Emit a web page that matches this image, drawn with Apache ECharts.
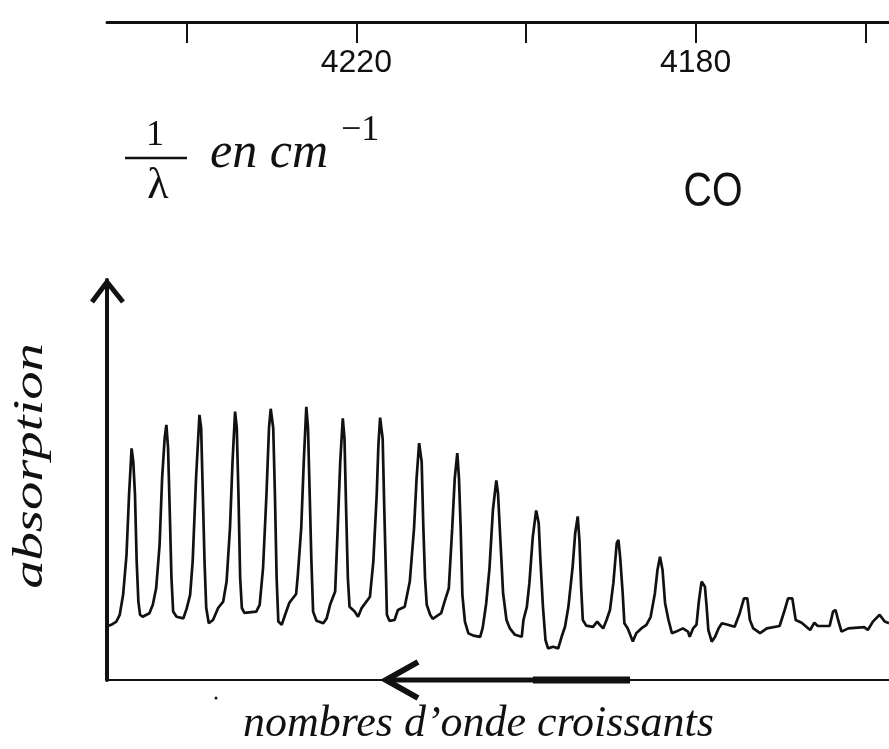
<!DOCTYPE html>
<html>
<head>
<meta charset="utf-8">
<script src="https://cdn.jsdelivr.net/npm/echarts@6/dist/echarts.min.js"></script>
<style>
html,body{margin:0;padding:0;background:#fff;}
#c{width:889px;height:749px;}
</style>
</head>
<body>
<div id="c"></div>
<script>
// Wavenumber (cm^-1) of each traced point of the CO absorption spectrum
const wavenumber = [
4249.3, 4248.9, 4248.3, 4247.9, 4247.5, 4247.1, 4246.8, 4246.5, 4246.3, 4246.1,
4245.9, 4245.7, 4245.5, 4245.2, 4244.4, 4244.0, 4243.6, 4243.2, 4242.9, 4242.6,
4242.4, 4242.2, 4242.0, 4241.8, 4241.6, 4241.2, 4240.4, 4240.0, 4239.6, 4239.3,
4238.9, 4238.5, 4238.3, 4238.1, 4237.9, 4237.7, 4237.4, 4236.9, 4236.3, 4235.7,
4235.3, 4234.9, 4234.6, 4234.3, 4234.1, 4233.9, 4233.7, 4233.5, 4233.2, 4231.8,
4231.4, 4231.0, 4230.6, 4230.3, 4230.1, 4229.8, 4229.6, 4229.4, 4229.2, 4228.8,
4228.4, 4227.9, 4227.1, 4226.9, 4226.5, 4226.2, 4225.9, 4225.7, 4225.5, 4225.3,
4225.1, 4224.7, 4223.9, 4223.5, 4223.1, 4222.5, 4222.2, 4221.9, 4221.6, 4221.4,
4221.2, 4221.0, 4220.8, 4220.2, 4219.8, 4219.4, 4218.4, 4218.0, 4217.6, 4217.4,
4217.2, 4216.9, 4216.7, 4216.5, 4216.4, 4216.1, 4215.5, 4215.1, 4214.3, 4213.7,
4213.2, 4212.9, 4212.6, 4212.3, 4212.1, 4211.9, 4211.7, 4211.3, 4211.0, 4210.0,
4209.6, 4209.1, 4208.7, 4208.4, 4208.1, 4207.9, 4207.7, 4207.5, 4207.2, 4206.8,
4206.2, 4205.4, 4205.1, 4204.7, 4204.3, 4203.9, 4203.5, 4203.3, 4203.0, 4202.7,
4202.3, 4201.9, 4201.3, 4200.5, 4200.3, 4199.9, 4199.6, 4199.2, 4198.8, 4198.5,
4198.3, 4198.0, 4197.7, 4197.4, 4196.8, 4196.2, 4195.8, 4195.4, 4195.0, 4194.5,
4194.2, 4193.9, 4193.7, 4193.5, 4193.3, 4192.9, 4192.1, 4191.6, 4191.3, 4190.9,
4190.5, 4190.1, 4189.7, 4189.3, 4189.1, 4188.9, 4188.6, 4188.4, 4188.0, 4187.4,
4187.0, 4186.4, 4185.8, 4185.3, 4184.8, 4184.5, 4184.2, 4183.9, 4183.6, 4183.2,
4182.8, 4182.3, 4181.5, 4180.9, 4180.7, 4180.3, 4179.9, 4179.6, 4179.3, 4178.9,
4178.7, 4178.5, 4178.1, 4177.7, 4177.3, 4176.9, 4176.2, 4175.4, 4174.8, 4174.3,
4173.9, 4173.6, 4173.2, 4172.4, 4171.6, 4170.1, 4169.5, 4169.1, 4168.6, 4168.2,
4167.5, 4166.5, 4166.0, 4165.6, 4164.2, 4163.8, 4163.5, 4163.2, 4162.8, 4162.0,
4160.1, 4159.7, 4159.1, 4158.3, 4157.7, 4157.2
];
// Absorption (arbitrary units, 0 = bottom axis line) at each point
const absorption = [
13.5, 13.8, 14.6, 16.3, 21.3, 31.3, 46.3, 57.9, 54.6, 46.3,
29.6, 19.6, 16.3, 15.8, 16.7, 18.8, 23, 33.8, 50.5, 60.5,
63.8, 58, 42.1, 25.5, 17.1, 15.8, 15.4, 17.9, 21.3, 29.6,
50.5, 66.3, 63, 46.3, 29.6, 18, 14.2, 15, 18, 19.6,
24.6, 38, 54.6, 67.1, 63, 46.3, 25.5, 18, 16.8, 17.1,
18.8, 28, 46.3, 63, 67.8, 63, 46.3, 25.5, 14.6, 13.8,
16.3, 19.3, 21.5, 26.3, 38, 54.6, 68.3, 63, 46.3, 29.6,
17.1, 14.8, 14.2, 15.4, 18.8, 22.1, 37.9, 54.6, 65.4, 60.4,
42.1, 25.4, 18.3, 17.1, 15.8, 17.9, 20.8, 29.6, 46.3, 58.8,
65.6, 60.4, 42.1, 25.4, 16.3, 14.8, 15, 17.5, 18.3, 24.6,
37.9, 50.4, 59.2, 54.6, 37.9, 25.4, 18.8, 16.3, 15.3, 16.7,
19.6, 22.9, 37.9, 50.4, 56.7, 50.4, 37.9, 21.3, 14.6, 11.7,
11.1, 10.8, 13.1, 19, 28, 42.5, 49.9, 46.7, 34.2, 21.7,
15, 12.9, 11.3, 10.8, 15, 18.3, 24.2, 35.8, 42.4, 39.2,
30, 18.3, 10, 7.9, 8.3, 7.9, 10.8, 13.3, 18.3, 28.3,
36.7, 40.9, 35, 23.3, 15, 13.6, 13.3, 14.6, 13.8, 12.9,
15, 17.5, 24.2, 34.2, 35, 30.8, 21.7, 14.2, 12.9, 9.6,
11.7, 12.9, 13.8, 15.8, 21.7, 27.5, 30.8, 27.5, 19.2, 15,
11.7, 12.1, 12.9, 12.1, 10.8, 12.9, 13.8, 20, 24.6, 23.3,
18.3, 12.5, 9.6, 10.8, 12.9, 14.2, 13.8, 13.3, 16.7, 20.4,
20.4, 15, 12.9, 11.7, 12.9, 13.5, 17.5, 20.4, 20.4, 15,
14.3, 12.5, 14.3, 13.5, 13.5, 17.1, 17.5, 15, 12.1, 12.9,
13.2, 12.5, 14.6, 16.3, 14.6, 14.2
];
const tickValues = [4240, 4220, 4200, 4180, 4160];
const tickLabels = [4220, 4180];
const xMin = 4157.2, xMax = 4249.4;

const n = Math.min(wavenumber.length, absorption.length);
const spectrum = [];
for (let i = 0; i < n; i++) spectrum.push([wavenumber[i], absorption[i]]);

const INK = '#111';
const serif = '"Liberation Serif", "Times New Roman", serif';
const sans = '"Liberation Sans", Arial, sans-serif';

const chart = echarts.init(document.getElementById('c'), null, {renderer: 'canvas'});
chart.setOption({
  backgroundColor: '#fff',
  animation: false,
  grid: {left: 107, right: 0, top: 280, bottom: 69, containLabel: false, outerBoundsMode: 'none'},
  xAxis: [
    {
      type: 'value', position: 'top', offset: 258, inverse: true, min: xMin, max: xMax,
      axisLine: {show: true, onZero: false, lineStyle: {color: INK, width: 3}},
      axisTick: {show: true, inside: true, length: 21, lineStyle: {color: INK, width: 2}, customValues: tickValues},
      axisLabel: {show: true, inside: true, margin: 25, color: INK, fontSize: 32, fontFamily: sans,
        customValues: tickLabels, formatter: v => String(v)},
      splitLine: {show: false}
    },
    {
      type: 'value', position: 'bottom', inverse: true, min: xMin, max: xMax,
      axisLine: {show: true, onZero: false, lineStyle: {color: INK, width: 2}},
      axisTick: {show: false}, axisLabel: {show: false}, splitLine: {show: false}
    }
  ],
  yAxis: {
    type: 'value', min: 0, max: 100,
    axisLine: {show: true, onZero: false, lineStyle: {color: INK, width: 4}},
    axisTick: {show: false}, axisLabel: {show: false}, splitLine: {show: false}
  },
  series: [{
    type: 'line', xAxisIndex: 1, data: spectrum, showSymbol: false, symbol: 'none',
    lineStyle: {color: INK, width: 2.7}, z: 3
  }],
  graphic: [
    // arrow head of the absorption axis
    {type: 'polyline', z: 10, shape: {points: [[92, 302], [107, 282], [123, 302]]},
      style: {stroke: INK, lineWidth: 5, fill: null, lineJoin: 'miter'}},
    // thick arrow along the bottom axis
    {type: 'line', z: 10, shape: {x1: 385, y1: 680, x2: 533, y2: 680}, style: {stroke: INK, lineWidth: 5}},
    {type: 'line', z: 10, shape: {x1: 533, y1: 680, x2: 630, y2: 680}, style: {stroke: INK, lineWidth: 7}},
    {type: 'polyline', z: 10, shape: {points: [[418, 662], [386, 680], [418, 698]]},
      style: {stroke: INK, lineWidth: 6, fill: null, lineJoin: 'miter'}},
    {type: 'circle', z: 10, shape: {cx: 216, cy: 698, r: 1.5}, style: {fill: INK}},
    // 1/λ en cm-1
    {type: 'text', z: 10, x: 155, y: 136, style: {text: '1', fontSize: 36, fontFamily: serif, fill: INK,
      align: 'center', verticalAlign: 'middle', textAlign: 'center', textVerticalAlign: 'middle'}},
    {type: 'line', z: 10, shape: {x1: 125, y1: 158, x2: 187, y2: 158}, style: {stroke: INK, lineWidth: 2.5}},
    {type: 'text', z: 10, x: 158, y: 186, style: {text: 'λ', fontSize: 44, fontFamily: serif, fill: INK,
      align: 'center', verticalAlign: 'middle', textAlign: 'center', textVerticalAlign: 'middle'}},
    {type: 'text', z: 10, x: 210, y: 154, style: {text: 'en cm', fontSize: 50, fontStyle: 'italic', fontFamily: serif, fill: INK,
      align: 'left', verticalAlign: 'middle', textAlign: 'left', textVerticalAlign: 'middle'}},
    {type: 'text', z: 10, x: 341, y: 131, style: {text: '−1', fontSize: 36, fontFamily: serif, fill: INK,
      align: 'left', verticalAlign: 'middle', textAlign: 'left', textVerticalAlign: 'middle'}},
    // molecule (condensed sans)
    {type: 'text', z: 10, x: 713, y: 193, scaleX: 0.82, scaleY: 1,
      style: {text: 'CO', fontSize: 48, fontFamily: sans, fill: INK,
      align: 'center', verticalAlign: 'middle', textAlign: 'center', textVerticalAlign: 'middle'}},
    // axis names
    {type: 'text', z: 10, x: 31, y: 466, rotation: Math.PI / 2, scaleX: 1.35, scaleY: 1,
      style: {text: 'absorption', fontSize: 42, fontStyle: 'italic', fontFamily: serif, fill: INK,
      align: 'center', verticalAlign: 'middle', textAlign: 'center', textVerticalAlign: 'middle'}},
    {type: 'text', z: 10, x: 243, y: 724, style: {text: 'nombres d’onde croissants', fontSize: 44, fontStyle: 'italic', fontFamily: serif, fill: INK,
      align: 'left', verticalAlign: 'middle', textAlign: 'left', textVerticalAlign: 'middle'}}
  ]
});
</script>
</body>
</html>
